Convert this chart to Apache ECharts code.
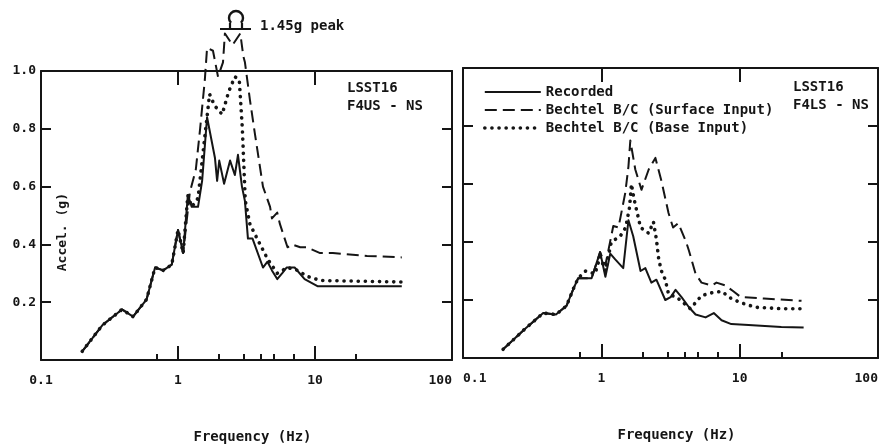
<!DOCTYPE html>
<html>
<head>
<meta charset="utf-8">
<script src="https://cdn.jsdelivr.net/npm/echarts@6/dist/echarts.min.js"></script>
<style>
  html, body { margin: 0; padding: 0; background: #fff; }
  #chart { width: 881px; height: 445px; }
</style>
</head>
<body>
<div id="chart"></div>
<script>
// F4US - NS (left panel)
const usRecFreq = [0.2, 0.28, 0.39, 0.47, 0.59, 0.68, 0.78, 0.9, 1.0, 1.09, 1.18, 1.26, 1.4, 1.5, 1.63, 1.86, 1.93, 2.0, 2.17, 2.4, 2.6, 2.74, 2.93, 3.08, 3.24, 3.5, 4.17, 4.5, 4.85, 5.3, 5.75, 6.2, 7.1, 8.4, 10.5, 43];
const usRecVal = [0.03, 0.12, 0.175, 0.15, 0.21, 0.32, 0.31, 0.33, 0.45, 0.37, 0.57, 0.53, 0.53, 0.62, 0.84, 0.70, 0.62, 0.69, 0.61, 0.69, 0.64, 0.71, 0.60, 0.55, 0.42, 0.42, 0.32, 0.34, 0.31, 0.28, 0.30, 0.32, 0.32, 0.28, 0.255, 0.255];
const usSurfFreq = [1.09, 1.22, 1.35, 1.45, 1.57, 1.63, 1.8, 1.96, 2.13, 2.2, 2.5, 2.85, 3.0, 3.08, 3.35, 3.65, 4.17, 4.7, 4.85, 5.3, 5.55, 6.3, 6.8, 7.8, 8.7, 10.9, 13.5, 24, 43];
const usSurfVal = [0.37, 0.58, 0.66, 0.80, 0.97, 1.08, 1.07, 0.98, 1.03, 1.13, 1.09, 1.13, 1.05, 1.03, 0.90, 0.78, 0.60, 0.53, 0.49, 0.51, 0.47, 0.39, 0.40, 0.39, 0.39, 0.37, 0.37, 0.36, 0.355];
const usBaseFreq = [1.26, 1.4, 1.55, 1.7, 1.85, 2.1, 2.35, 2.6, 2.8, 2.95, 3.1, 3.35, 3.6, 4.5, 5.3, 6.3, 7.5, 8.7, 11, 43];
const usBaseVal = [0.53, 0.56, 0.75, 0.92, 0.88, 0.85, 0.93, 0.98, 0.97, 0.80, 0.55, 0.47, 0.44, 0.35, 0.30, 0.32, 0.31, 0.29, 0.275, 0.27];

// F4LS - NS (right panel)
const lsRecFreq = [0.195, 0.28, 0.38, 0.47, 0.56, 0.63, 0.68, 0.85, 0.98, 1.07, 1.16, 1.26, 1.44, 1.57, 1.7, 1.92, 2.08, 2.3, 2.5, 2.9, 3.17, 3.44, 3.8, 4.3, 4.8, 5.67, 6.5, 7.4, 8.7, 11.6, 20, 29];
const lsRecVal = [0.03, 0.10, 0.155, 0.15, 0.18, 0.24, 0.275, 0.275, 0.365, 0.28, 0.36, 0.34, 0.31, 0.475, 0.42, 0.30, 0.31, 0.26, 0.27, 0.20, 0.21, 0.235, 0.21, 0.175, 0.15, 0.14, 0.155, 0.13, 0.117, 0.114, 0.107, 0.105];
const lsSurfFreq = [0.98, 1.07, 1.22, 1.33, 1.49, 1.57, 1.62, 1.76, 1.95, 2.2, 2.46, 2.72, 3.06, 3.3, 3.6, 4.1, 4.3, 4.8, 5.3, 6.3, 6.8, 7.9, 9.0, 10.2, 15, 28];
const lsSurfVal = [0.365, 0.32, 0.455, 0.45, 0.57, 0.66, 0.75, 0.65, 0.58, 0.65, 0.69, 0.61, 0.50, 0.45, 0.465, 0.40, 0.37, 0.29, 0.26, 0.25, 0.26, 0.25, 0.23, 0.21, 0.205, 0.197];
const lsBaseFreq = [0.68, 0.77, 0.9, 0.98, 1.07, 1.18, 1.37, 1.5, 1.6, 1.65, 1.72, 1.92, 2.2, 2.38, 2.5, 2.6, 2.72, 2.9, 3.06, 3.5, 4.4, 5.3, 6.3, 7.4, 8.7, 10.3, 13, 20, 28];
const lsBaseVal = [0.275, 0.30, 0.29, 0.35, 0.30, 0.40, 0.42, 0.45, 0.52, 0.60, 0.55, 0.45, 0.43, 0.47, 0.41, 0.34, 0.30, 0.27, 0.22, 0.21, 0.17, 0.215, 0.225, 0.23, 0.205, 0.19, 0.175, 0.17, 0.17];

const yTicks = [0.2, 0.4, 0.6, 0.8, 1.0];
const minorFreqTicks = [0.7, 2, 3, 4, 5, 7, 20];

const names = ['Recorded', 'Bechtel B/C (Surface Input)', 'Bechtel B/C (Base Input)'];

const ink = '#151515';
const font = 'DejaVu Sans Mono';

// low-frequency part is shared by all three curves
function pairs(fx, vy) { return fx.map((f, i) => [f, vy[i]]); }
function withBase(recF, recV, f, v) {
  const start = recF.findIndex(x => x >= f[0]);
  return pairs(recF.slice(0, start), recV.slice(0, start)).concat(pairs(f, v));
}

const styles = [
  { type: 'solid', width: 2, cap: 'butt' },
  { type: [12, 6], width: 2, cap: 'butt' },
  { type: [0.1, 7], width: 3.6, cap: 'round' }
];

function panelAxes(gridIndex, showYLabels, alignMin) {
  const x = [
    {
      gridIndex, type: 'log', logBase: 10, min: 0.1, max: 100, position: 'bottom',
      axisLine: { lineStyle: { color: ink, width: 2 } },
      axisTick: { inside: true, length: 14, lineStyle: { color: ink, width: 2 } },
      axisLabel: {
        color: ink, fontFamily: font, fontWeight: 'bold', fontSize: 13, margin: 14,
        formatter: v => String(v), alignMinLabel: alignMin, alignMaxLabel: 'right'
      },
      splitLine: { show: false },
      name: 'Frequency (Hz)', nameLocation: 'middle', nameGap: 70,
      nameTextStyle: { color: ink, fontFamily: font, fontWeight: 'bold', fontSize: 14, padding: [0, 0, 0, 12] }
    },
    {
      gridIndex, type: 'log', logBase: 10, min: 0.1, max: 100, position: 'bottom',
      axisLine: { show: false },
      axisTick: { inside: true, length: 6, customValues: minorFreqTicks, lineStyle: { color: ink, width: 2 } },
      axisLabel: { show: false },
      splitLine: { show: false }
    },
    {
      gridIndex, type: 'log', logBase: 10, min: 0.1, max: 100, position: 'top',
      axisLine: { lineStyle: { color: ink, width: 2 } },
      axisTick: { inside: true, length: 14, lineStyle: { color: ink, width: 2 } },
      axisLabel: { show: false },
      splitLine: { show: false }
    }
  ];
  const y = [
    {
      gridIndex, type: 'value', min: 0, max: 1.0, interval: 0.2, position: 'left',
      axisLine: { show: true, lineStyle: { color: ink, width: 2 } },
      axisTick: { show: true, inside: true, length: 10, customValues: yTicks, lineStyle: { color: ink, width: 2 } },
      axisLabel: {
        show: showYLabels, color: ink, fontFamily: font, fontWeight: 'bold', fontSize: 13, margin: 5,
        customValues: yTicks, formatter: v => v.toFixed(1)
      },
      splitLine: { show: false }
    },
    {
      gridIndex, type: 'value', min: 0, max: 1.0, interval: 0.2, position: 'right',
      axisLine: { show: true, lineStyle: { color: ink, width: 2 } },
      axisTick: { show: true, inside: true, length: 10, customValues: yTicks, lineStyle: { color: ink, width: 2 } },
      axisLabel: { show: false },
      splitLine: { show: false }
    }
  ];
  return { x, y };
}

const left = panelAxes(0, true, 'center');
const right = panelAxes(1, false, 'left');

function panelSeries(xi, yi, sets) {
  return sets.map((d, i) => ({
    name: names[i], type: 'line', xAxisIndex: xi, yAxisIndex: yi,
    data: d, symbol: 'none', clip: false, smooth: false,
    itemStyle: { color: ink },
    lineStyle: Object.assign({ color: ink, join: 'round' }, styles[i]),
    z: 3 - i
  }));
}

const series = [].concat(
  panelSeries(0, 0, [
    pairs(usRecFreq, usRecVal),
    withBase(usRecFreq, usRecVal, usSurfFreq, usSurfVal),
    withBase(usRecFreq, usRecVal, usBaseFreq, usBaseVal)
  ]),
  panelSeries(3, 2, [
    pairs(lsRecFreq, lsRecVal),
    withBase(lsRecFreq, lsRecVal, lsSurfFreq, lsSurfVal),
    withBase(lsRecFreq, lsRecVal, lsBaseFreq, lsBaseVal)
  ])
);

const txt = (x, y, text, extra) => ({
  type: 'text', left: x, top: y,
  style: Object.assign({ text, fill: ink, font: 'bold 14px "' + font + '"' }, extra || {})
});

const chart = echarts.init(document.getElementById('chart'), null, { renderer: 'canvas' });
chart.setOption({
  animation: false,
  backgroundColor: '#fff',
  grid: [
    { left: 41, right: 429, top: 71, bottom: 85, outerBoundsMode: 'none', containLabel: false },
    { left: 463, right: 3, top: 68, bottom: 87, outerBoundsMode: 'none', containLabel: false }
  ],
  xAxis: left.x.concat(right.x),
  yAxis: left.y.concat(right.y),
  legend: {
    data: names.map((n, i) => ({ name: n, lineStyle: { width: styles[i].width } })),
    orient: 'vertical', left: 478, top: 80,
    itemWidth: 56, itemHeight: 14, itemGap: 4, selectedMode: false,
    itemStyle: { opacity: 0 },
    textStyle: { color: ink, fontFamily: font, fontWeight: 'bold', fontSize: 14 }
  },
  graphic: [
    txt(347, 81, 'LSST16'),
    txt(347, 99, 'F4US - NS'),
    txt(793, 80, 'LSST16'),
    txt(793, 98, 'F4LS - NS'),
    txt(260, 19, '1.45g peak'),
    {
      type: 'text', left: 56, top: 193, rotation: Math.PI / 2,
      style: { text: 'Accel. (g)', fill: ink, font: 'bold 13px "' + font + '"' }
    },
    { type: 'line', shape: { x1: 220, y1: 29, x2: 251, y2: 29 }, style: { stroke: ink, lineWidth: 2 } },
    {
      type: 'arc', shape: { cx: 236, cy: 18, r: 7, startAngle: Math.PI * 0.75, endAngle: Math.PI * 0.25, clockwise: true },
      style: { stroke: ink, lineWidth: 2.4, fill: null }
    },
    { type: 'line', shape: { x1: 230, y1: 23, x2: 230, y2: 29 }, style: { stroke: ink, lineWidth: 2.2 } },
    { type: 'line', shape: { x1: 242, y1: 23, x2: 242, y2: 29 }, style: { stroke: ink, lineWidth: 2.2 } }
  ],
  series
});
</script>
</body>
</html>
